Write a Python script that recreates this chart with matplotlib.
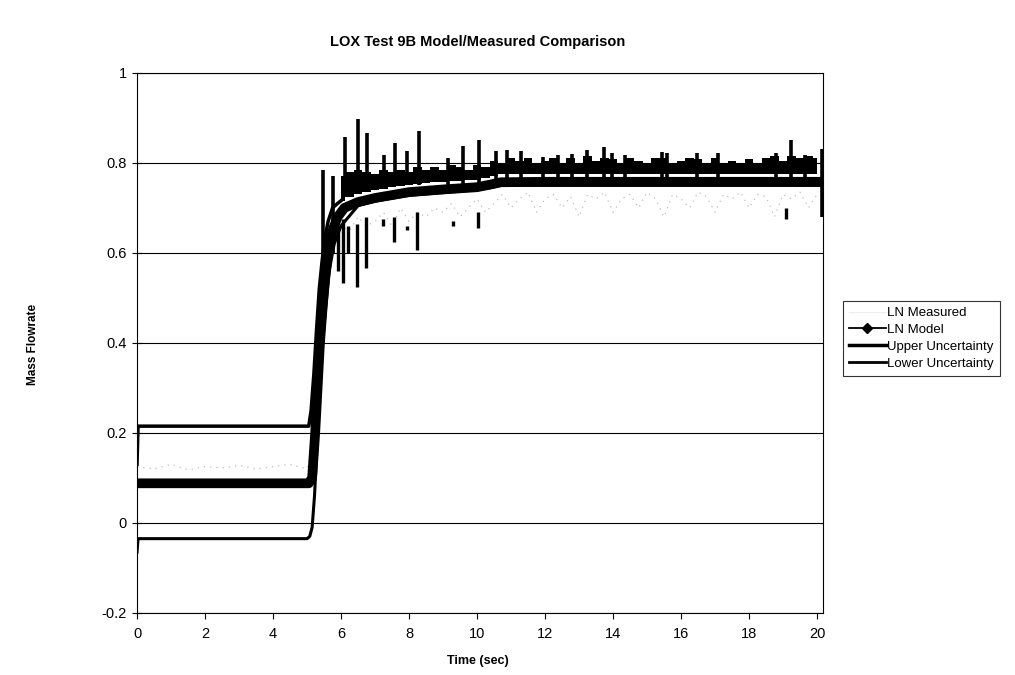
import numpy as np
import matplotlib
matplotlib.use("Agg")
import matplotlib.pyplot as plt
from matplotlib.lines import Line2D

plt.rcParams['font.family'] = ['Liberation Sans', 'DejaVu Sans']

# LN model (s, kg/s)
t_model = [0, 5.05, 5.15, 5.24, 5.31, 5.38, 5.46, 5.53, 5.62, 5.75, 5.9, 6.1,
           6.5, 7.0, 8.0, 9.0, 10.0, 10.4, 10.7, 12.0, 20.2]
model = [0.088, 0.088, 0.1, 0.2, 0.3, 0.4, 0.48, 0.54, 0.6, 0.65, 0.68, 0.70,
         0.713, 0.722, 0.735, 0.741, 0.746, 0.752, 0.757, 0.758, 0.758]

# upper uncertainty: base line, noise band and spikes
t_upper = [0, 0.03, 5.05, 5.12, 5.2, 5.28, 5.36, 5.44, 5.52, 5.62, 5.75, 5.9, 6.0]
upper = [0.13, 0.215, 0.215, 0.25, 0.33, 0.43, 0.52, 0.58, 0.63, 0.67, 0.70, 0.71, 0.716]

band_t = np.arange(6.0, 20.01, 0.25)
band_top = [0.77, 0.78, 0.785, 0.78, 0.775, 0.785, 0.78, 0.785, 0.78, 0.79,
            0.785, 0.79, 0.785, 0.795, 0.79, 0.785, 0.795, 0.79, 0.805, 0.80,
            0.81, 0.805, 0.81, 0.80, 0.805, 0.81, 0.80, 0.812, 0.80, 0.815,
            0.805, 0.812, 0.808, 0.80, 0.81, 0.805, 0.80, 0.812, 0.81, 0.80,
            0.805, 0.81, 0.808, 0.80, 0.812, 0.80, 0.805, 0.80, 0.808, 0.80,
            0.81, 0.815, 0.805, 0.815, 0.81, 0.815, 0.81]
band_base = [0.716, 0.724, 0.731, 0.736, 0.74, 0.743, 0.746, 0.749, 0.752, 0.754,
             0.756, 0.757, 0.758, 0.759, 0.76, 0.761, 0.763, 0.766, 0.771] + [0.776] * 38

spike_t = [5.48, 5.77, 6.12, 6.51, 6.77, 7.27, 7.6, 7.95, 8.29, 9.16, 9.6, 10.06,
           10.55, 10.87, 11.29, 11.95, 12.39, 12.78, 13.22, 13.74, 13.96, 14.35,
           15.45, 15.6, 16.46, 17.08, 18.79, 19.22, 19.65, 20.15]
spike_top = [0.784, 0.77, 0.858, 0.897, 0.867, 0.818, 0.844, 0.826, 0.870, 0.81,
             0.838, 0.85, 0.826, 0.828, 0.826, 0.814, 0.818, 0.82, 0.829, 0.836,
             0.822, 0.818, 0.825, 0.822, 0.823, 0.822, 0.822, 0.851, 0.818, 0.83]
spike_bottom = [0.45, 0.6] + [0.75] * 27 + [0.68]

# lower uncertainty: base line and downward spikes
t_lower = [0, 0.03, 5.0, 5.08, 5.15, 5.22, 5.3, 5.38, 5.46, 5.55, 5.65, 5.8,
           6.0, 6.5, 7.0, 8.0, 9.0, 10.0, 10.4, 10.7, 20.2]
lower = [-0.065, -0.035, -0.035, -0.03, -0.01, 0.06, 0.18, 0.3, 0.4, 0.48,
         0.56, 0.62, 0.66, 0.705, 0.715, 0.728, 0.734, 0.74, 0.745, 0.75, 0.75]

dip_t = [5.9, 6.07, 6.2, 6.46, 6.74, 7.24, 7.57, 7.93, 8.24, 9.3, 10.02, 19.1]
dip_top = [0.66, 0.675, 0.66, 0.665, 0.68, 0.675, 0.68, 0.66, 0.69, 0.67, 0.69, 0.70]
dip_bottom = [0.56, 0.533, 0.6, 0.525, 0.566, 0.66, 0.625, 0.65, 0.607, 0.66, 0.656, 0.676]

# LN measured (gray)
meas_t = list(np.arange(0, 5.01, 0.5)) + [5.2, 5.4, 5.6, 5.8] + list(np.arange(6.0, 20.01, 0.25))
measured = [0.125, 0.12, 0.13, 0.118, 0.125, 0.122, 0.128, 0.12, 0.125, 0.13, 0.12,
            0.2, 0.42, 0.58, 0.64,
            0.66, 0.65, 0.68, 0.66, 0.67, 0.69, 0.66, 0.70, 0.67, 0.69,
            0.68, 0.70, 0.69, 0.71, 0.68, 0.70, 0.72, 0.69, 0.71, 0.73,
            0.70, 0.72, 0.735, 0.69, 0.72, 0.73, 0.70, 0.725, 0.68, 0.73,
            0.72, 0.735, 0.69, 0.72, 0.73, 0.70, 0.735, 0.72, 0.68, 0.73,
            0.72, 0.70, 0.735, 0.725, 0.69, 0.73, 0.72, 0.735, 0.70, 0.73,
            0.725, 0.68, 0.73, 0.72, 0.735, 0.70, 0.73]

fig = plt.figure(figsize=(10.15, 6.75), dpi=100)
ax = fig.add_axes([0.135, 0.092, 0.676, 0.8])

ax.plot(meas_t, measured, color='#bdbdbd', lw=0.9, ls=(0, (1, 4)), zorder=2)

ax.fill_between(band_t, band_base, band_top, step='mid', color='black', lw=0, zorder=3)
ax.vlines(spike_t, spike_bottom, spike_top, color='black', lw=2.6, zorder=3)
ax.plot(t_upper, upper, color='black', lw=2.5, zorder=3)

ax.plot(t_lower, lower, color='black', lw=2.2, zorder=3)
ax.vlines(dip_t, dip_bottom, dip_top, color='black', lw=2.4, zorder=3)

ax.plot(t_model, model, color='black', lw=7, solid_capstyle='round',
        solid_joinstyle='round', zorder=4)

ax.set_xlim(0, 20.18)
ax.set_ylim(-0.2, 1.0)
ax.set_xticks(np.arange(0, 21, 2))
ax.set_yticks([-0.2, 0, 0.2, 0.4, 0.6, 0.8, 1])
ax.set_yticklabels(['-0.2', '0', '0.2', '0.4', '0.6', '0.8', '1'])
ax.tick_params(axis='x', direction='out', length=4, labelsize=10.5, pad=6)
ax.tick_params(axis='y', direction='inout', length=7, labelsize=10.5, pad=4)
ax.yaxis.grid(True, color='black', lw=0.8)
ax.set_axisbelow(True)
for s in ax.spines.values():
    s.set_linewidth(0.8)

fig.text(0.471, 0.938, 'LOX Test 9B Model/Measured Comparison', ha='center',
         va='center', fontsize=10.5, fontweight='bold')
fig.text(0.471, 0.021, 'Time (sec)', ha='center', va='center', fontsize=9,
         fontweight='bold')
fig.text(0.033, 0.49, 'Mass Flowrate', ha='center', va='center', rotation=90,
         fontsize=8.5, fontweight='bold')

handles = [
    Line2D([], [], color='#eeeeee', lw=0.8),
    Line2D([], [], color='black', lw=1.3, marker='D', ms=5),
    Line2D([], [], color='black', lw=2.5),
    Line2D([], [], color='black', lw=2.0),
]
labels = ['LN Measured', 'LN Model', 'Upper Uncertainty', 'Lower Uncertainty']
leg = fig.legend(handles, labels, loc='upper left',
                 bbox_to_anchor=(843 / 1015, 1 - 301 / 675), fontsize=9.5,
                 frameon=True, fancybox=False, edgecolor='black',
                 handlelength=2.8, handletextpad=0.1, labelspacing=0.35,
                 borderpad=0.45, borderaxespad=0)
leg.get_frame().set_linewidth(0.8)

fig.savefig('out.png', dpi=100)
